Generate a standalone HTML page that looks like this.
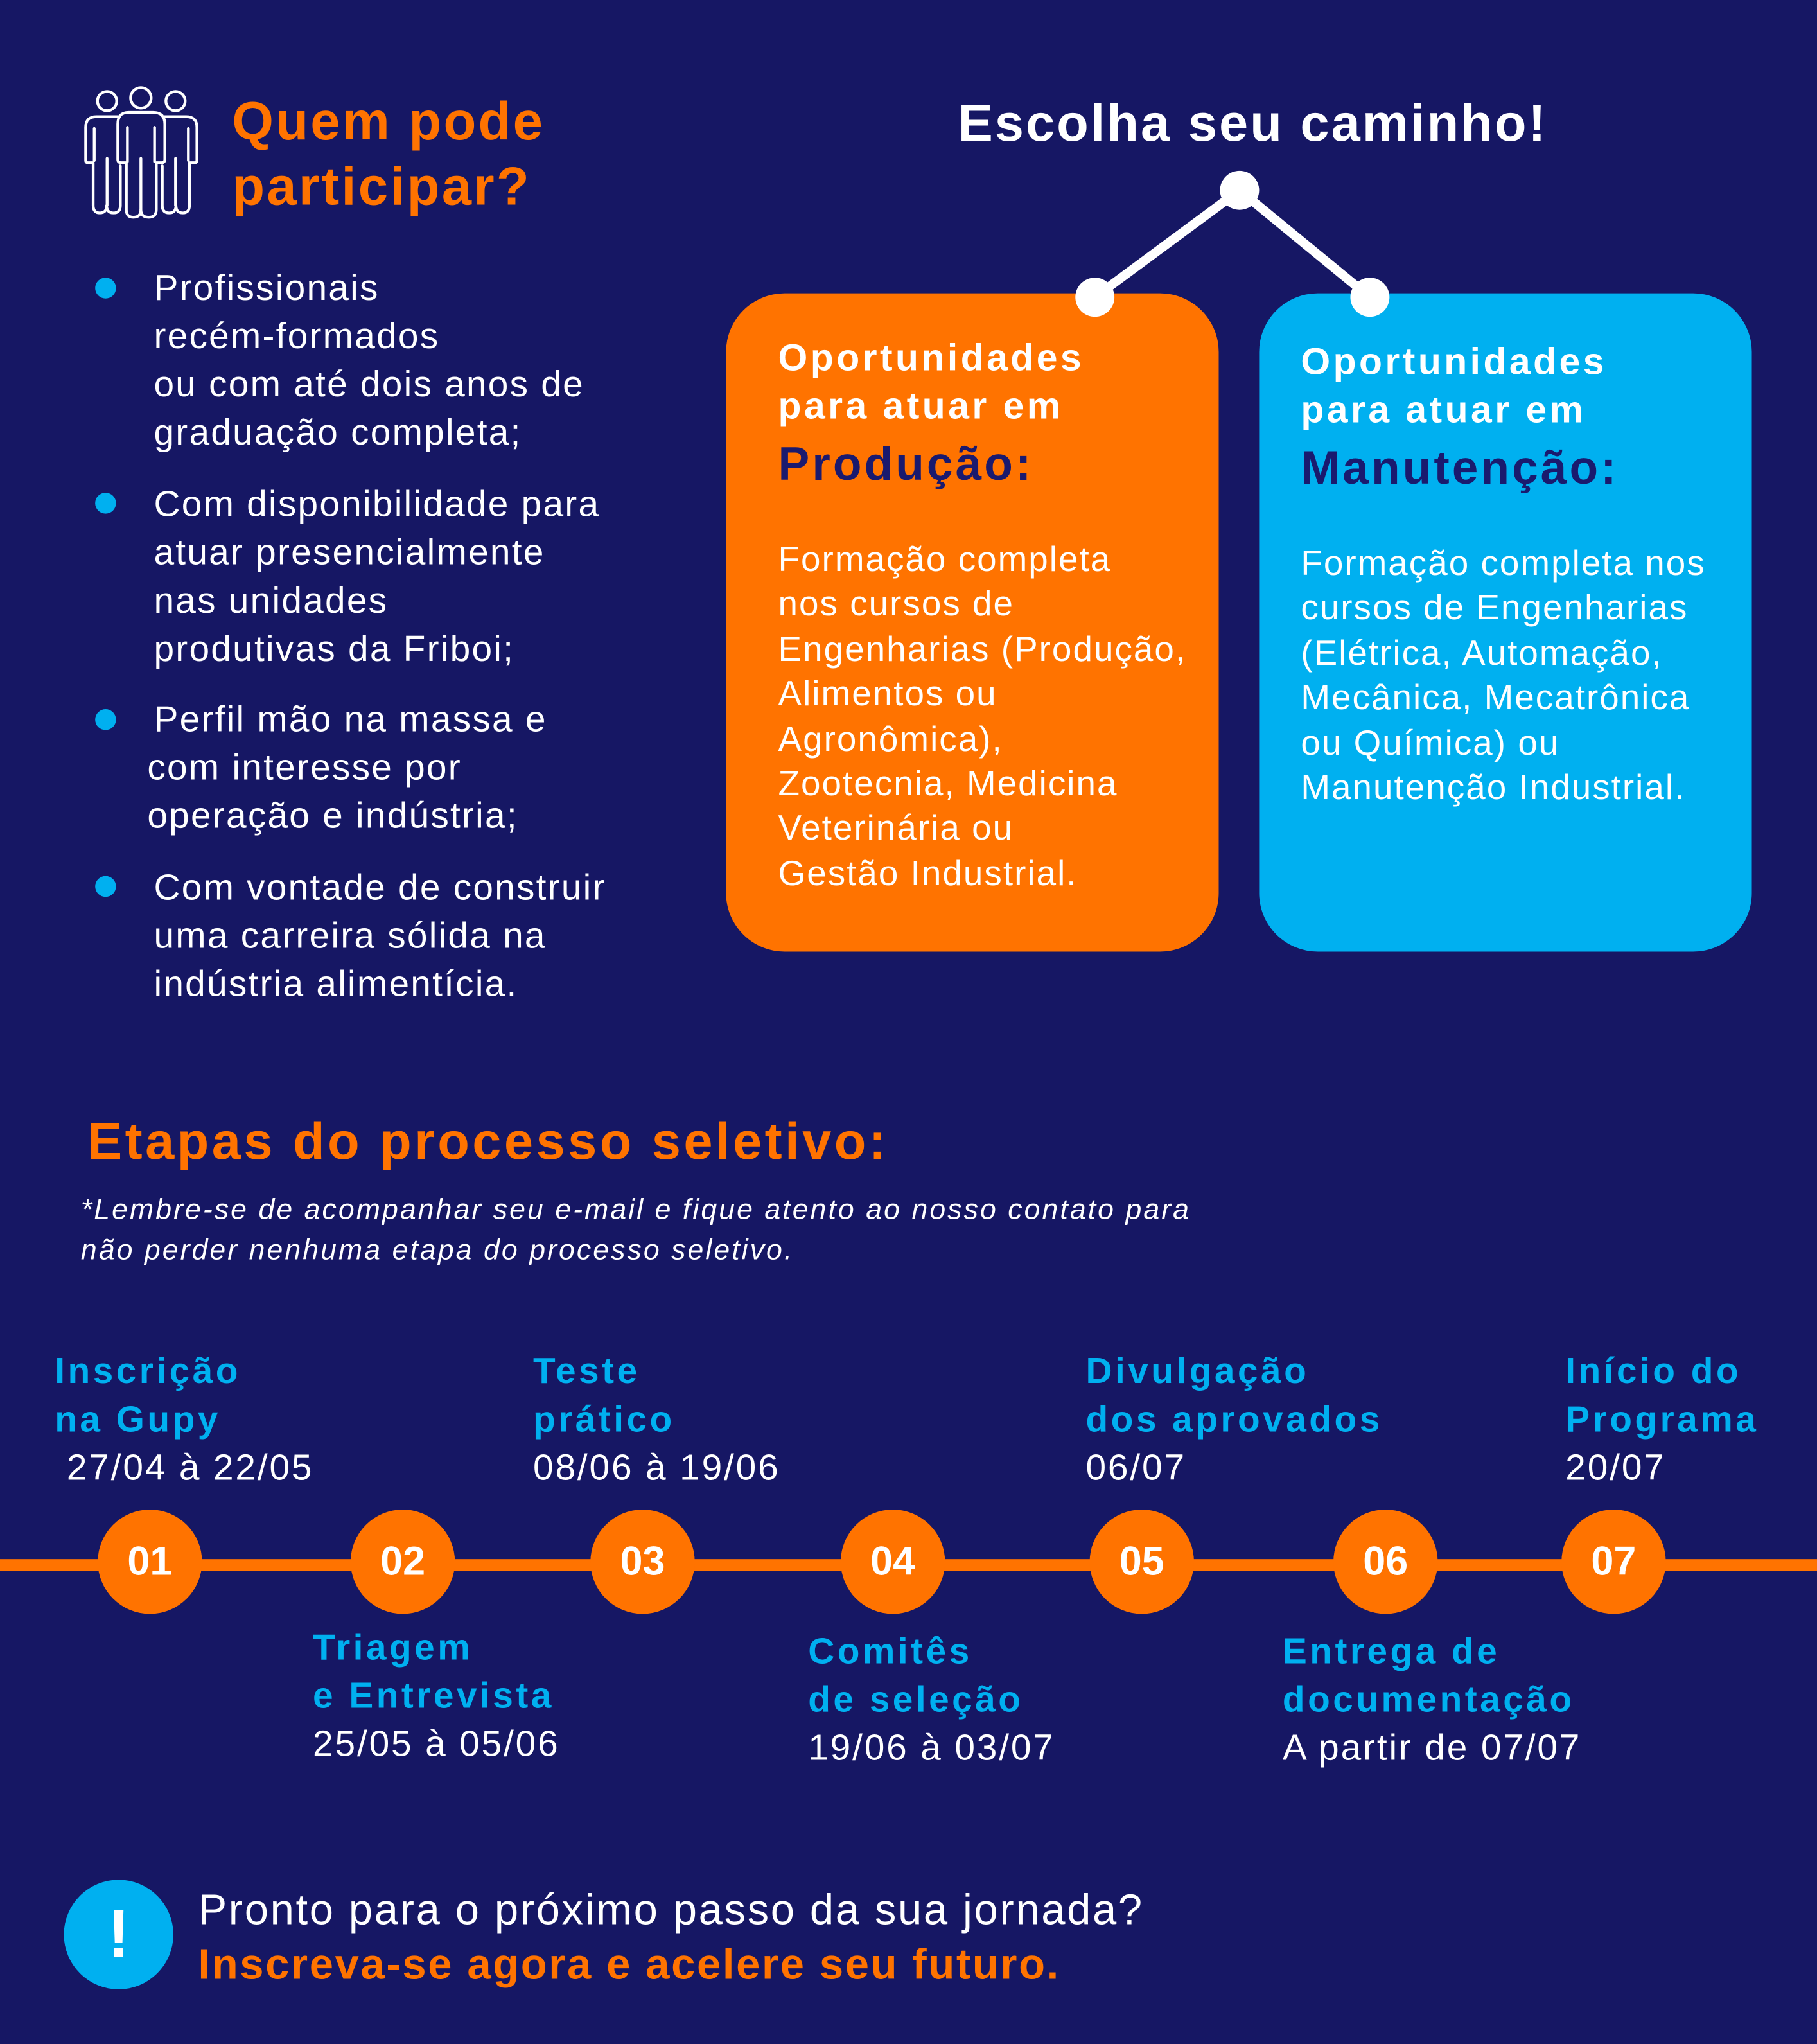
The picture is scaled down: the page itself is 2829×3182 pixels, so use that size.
<!DOCTYPE html>
<html><head><meta charset="utf-8">
<style>
html,body{margin:0;padding:0;background:#161764;width:2829px;height:3182px;overflow:hidden}
#w{position:absolute;left:0;top:0;width:1394px;height:1568px;transform:scale(2.0294);transform-origin:0 0;font-family:"Liberation Sans",sans-serif;color:#fff}
.a{position:absolute;white-space:nowrap}
.o{color:#ff7300}.c{color:#00b0f0}.b{font-weight:bold}
.dot{position:absolute;width:16px;height:16px;border-radius:50%;background:#00b0f0}
.bl{position:absolute;left:118px;font-size:28px;line-height:37px;letter-spacing:1.1px;white-space:nowrap}
.box{position:absolute;top:225px;width:378px;height:505px;border-radius:45px}
.circ{position:absolute;top:1158px;width:80px;height:80px;border-radius:50%;background:#ff7300;color:#fff;font-weight:bold;font-size:31px;line-height:80px;text-align:center}
.lab{position:absolute;font-size:28px;line-height:37px;white-space:nowrap;letter-spacing:1.4px}
.lab b{color:#00b0f0;letter-spacing:2.2px}
</style></head><body><div id="w">
<svg class="a" style="left:60px;top:64px" width="96" height="106" viewBox="65 30 585 645" stroke="#fff" stroke-width="13" stroke-linecap="round" stroke-linejoin="round">
<g fill="none">
<circle cx="200" cy="112" r="45"/><circle cx="520" cy="112" r="45"/>
<path d="M262,185 H150 Q100,185 100,235 V390 Q100,400 110,400 H135 V600 Q135,635 167,635 Q198,635 198,600 Q198,635 230,635 Q262,635 262,600 V415 M140,240 V390 M200,380 V600"/>
<path d="M458,185 H570 Q620,185 620,235 V390 Q620,400 610,400 H585 V600 Q585,635 553,635 Q522,635 522,600 Q522,635 490,635 Q458,635 458,600 V415 M580,240 V390 M520,380 V600"/>
</g>
<circle cx="358" cy="97" r="48" fill="none"/>
<path fill="#161764" d="M300,165 H415 Q470,165 470,220 V385 Q470,400 455,400 H430 V620 Q430,655 395,655 Q358,655 358,620 Q358,655 322,655 Q290,655 290,620 V400 H265 Q250,400 250,385 V220 Q250,165 300,165 Z"/>
<path fill="none" d="M295,235 V395 M422,235 V395 M358,380 V620"/>
</svg>
<div class="a o b" style="left:178px;top:68px;font-size:41px;line-height:50px;letter-spacing:1.6px">Quem pode<br>participar?</div>
<div class="dot" style="left:73px;top:213px"></div>
<div class="dot" style="left:73px;top:378px"></div>
<div class="dot" style="left:73px;top:544px"></div>
<div class="dot" style="left:73px;top:672px"></div>
<div class="bl" style="top:202px">Profissionais<br>recém-formados<br>ou com até dois anos de<br>graduação completa;</div>
<div class="bl" style="top:368px">Com disponibilidade para<br>atuar presencialmente<br>nas unidades<br>produtivas da Friboi;</div>
<div class="bl" style="top:533px">Perfil mão na massa e<br><span style="margin-left:-5px">com interesse por</span><br><span style="margin-left:-5px">operação e indústria;</span></div>
<div class="bl" style="top:662px">Com vontade de construir<br>uma carreira sólida na<br>indústria alimentícia.</div>
<div class="a b" style="left:735px;top:70px;font-size:40px;line-height:50px;letter-spacing:1.5px">Escolha seu caminho!</div>
<svg class="a" style="left:0;top:0" width="1394" height="260"><polyline points="840,228 951,146 1051,228" stroke="#fff" stroke-width="7" fill="none"/></svg>
<div class="box" style="left:557px;background:#ff7300"></div>
<div class="box" style="left:966px;background:#00b0f0"></div>
<svg class="a" style="left:0;top:0" width="1394" height="260" fill="#fff"><circle cx="840" cy="228" r="15"/><circle cx="951" cy="146" r="15"/><circle cx="1051" cy="228" r="15"/></svg>
<div class="a b" style="left:597px;top:257px;font-size:29px;line-height:37px;letter-spacing:2.2px">Oportunidades<br>para atuar em</div>
<div class="a b" style="left:597px;top:334px;font-size:36px;line-height:44px;color:#1a1a6e;letter-spacing:2px">Produção:</div>
<div class="a" style="left:597px;top:412px;font-size:27px;line-height:34.4px;letter-spacing:1px">Formação completa<br>nos cursos de<br>Engenharias (Produção,<br>Alimentos ou<br>Agronômica),<br>Zootecnia, Medicina<br>Veterinária ou<br>Gestão Industrial.</div>
<div class="a b" style="left:998px;top:260px;font-size:29px;line-height:37px;letter-spacing:2.2px">Oportunidades<br>para atuar em</div>
<div class="a b" style="left:998px;top:337px;font-size:36px;line-height:44px;color:#1a1a6e;letter-spacing:2px">Manutenção:</div>
<div class="a" style="left:998px;top:415px;font-size:27px;line-height:34.4px;letter-spacing:1px">Formação completa nos<br>cursos de Engenharias<br>(Elétrica, Automação,<br>Mecânica, Mecatrônica<br>ou Química) ou<br>Manutenção Industrial.</div>
<div class="a o b" style="left:67px;top:851px;font-size:40px;line-height:50px;letter-spacing:2.2px">Etapas do processo seletivo:</div>
<div class="a" style="left:62px;top:912px;font-size:22px;line-height:31px;font-style:italic;letter-spacing:1.5px">*Lembre-se de acompanhar seu e-mail e fique atento ao nosso contato para<br>não perder nenhuma etapa do processo seletivo.</div>
<div class="a" style="left:0;top:1196px;width:1394px;height:9px;background:#ff7300"></div>
<div class="circ" style="left:75px">01</div>
<div class="circ" style="left:269px">02</div>
<div class="circ" style="left:453px">03</div>
<div class="circ" style="left:645px">04</div>
<div class="circ" style="left:836px">05</div>
<div class="circ" style="left:1023px">06</div>
<div class="circ" style="left:1198px">07</div>
<div class="lab" style="left:42px;top:1033px"><b>Inscrição<br>na Gupy</b><br>&nbsp;27/04 à 22/05</div>
<div class="lab" style="left:409px;top:1033px"><b>Teste<br>prático</b><br>08/06 à 19/06</div>
<div class="lab" style="left:833px;top:1033px"><b>Divulgação<br>dos aprovados</b><br>06/07</div>
<div class="lab" style="left:1201px;top:1033px"><b>Início do<br>Programa</b><br>20/07</div>
<div class="lab" style="left:240px;top:1245px"><b>Triagem<br>e Entrevista</b><br>25/05 à 05/06</div>
<div class="lab" style="left:620px;top:1248px"><b>Comitês<br>de seleção</b><br>19/06 à 03/07</div>
<div class="lab" style="left:984px;top:1248px"><b>Entrega de<br>documentação</b><br>A partir de 07/07</div>
<div class="a" style="left:49px;top:1442px;width:84px;height:84px;border-radius:50%;background:#00b0f0;text-align:center;font-weight:bold;font-size:52px;line-height:84px">!</div>
<div class="a" style="left:152px;top:1444px;font-size:33px;line-height:42px;letter-spacing:1.3px">Pronto para o próximo passo da sua jornada?<br><span class="o b">Inscreva-se agora e acelere seu futuro.</span></div>
</div></body></html>
